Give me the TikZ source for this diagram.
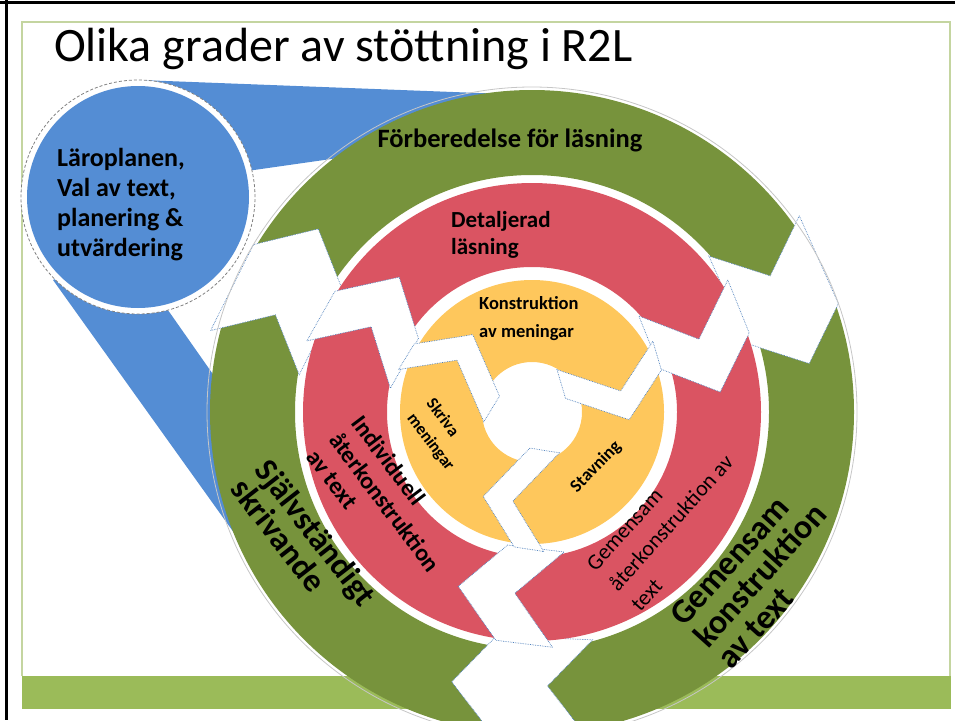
\documentclass[tikz,border=0pt]{standalone}
\usepackage{fontspec}
\setmainfont{Carlito}
\usepackage{tikz}
\usetikzlibrary{positioning}

\definecolor{ringgreen}{RGB}{119,147,60}
\definecolor{ringred}{RGB}{218,84,98}
\definecolor{ringyellow}{RGB}{254,199,92}
\definecolor{planblue}{RGB}{84,141,212}
\definecolor{barcolor}{RGB}{155,187,89}
\definecolor{framecolor}{RGB}{196,213,160}
\definecolor{gapblue}{RGB}{79,129,189}

\begin{document}
\begin{tikzpicture}[x=1pt, y=1pt,
    gapline/.style={fill=white, draw=gapblue, densely dotted, line width=0.7pt},
    ringlabel/.style={inner sep=0pt, text=black, font=\bfseries}]
    \useasboundingbox (0,0) rectangle (955,-720);

    % Slide frame and footer bar
    \draw[line width=3pt] (0,-2) -- (955,-2);
    \draw[line width=3pt] (6,0) -- (6,-720);
    \draw[framecolor, line width=1.5pt] (22,-676) -- (22,-22) -- (950,-22) -- (950,-676);
    \fill[barcolor] (22,-676) rectangle (951,-709);

    \node[anchor=base west, inner sep=0pt, font=\fontsize{48}{52}\selectfont] (title) at (54,-61) {Olika grader av stöttning i R2L};

    % Blue bands from the planning circle
    \fill[planblue] (140,-80) -- (505,-94) -- (420,-150) -- (345,-157) -- (240,-172) -- cycle;
    \fill[planblue] (53,-280) -- (252,-558) -- (268,-520) -- (224,-390) -- (170,-313) -- (120,-250) -- cycle;

    % Planning circle
    \fill[white] (138,-197) circle (117);
    \draw[gray, densely dashed, line width=0.8pt] (138,-197) circle (117);
    \fill[planblue] (138,-197) circle (111);
    \node[ringlabel, align=left, anchor=west, font=\bfseries\fontsize{26}{30}\selectfont] (plan) at (57,-205) {Läroplanen,\\Val av text,\\planering \&\\utvärdering};

    \begin{scope}[shift={(532,-412)}]
        % Outer ring
        \fill[ringgreen, even odd rule] (0,0) circle (322) (0,0) circle (237);
        \foreach \a in {153.5,24,267.5}
            \draw[gapline, rotate=\a] (324,70.5) -- (273,27.5) -- (225,70.5) -- (225,-25.5) -- (273,-68.5) -- (324,-25.5) -- cycle;
        \draw[gray!45, line width=0.8pt] (0,0) circle (325);

        % Middle ring
        \fill[ringred, even odd rule] (0,0) circle (229) (0,0) circle (145);
        \foreach \a in {150.5,22,263}
            \draw[gapline, rotate=\a] (231,49) -- (182,5) -- (135,49) -- (135,-8) -- (182,-52) -- (231,-8) -- cycle;

        % Inner ring
        \fill[ringyellow, even odd rule] (0,0) circle (132) (0,0) circle (50);
        \foreach \a in {148.5,16.5,261}
            \draw[gapline, rotate=\a] (136,33.5) -- (91,-5) -- (36,33.5) -- (36,3.5) -- (91,-35) -- (136,3.5) -- cycle;
    \end{scope}

    % Ring labels
    \node[ringlabel, font=\bfseries\fontsize{26.5}{30}\selectfont] (prep) at (510,-140) {Förberedelse för läsning};
    \node[ringlabel, align=left, anchor=west, font=\bfseries\fontsize{23}{27}\selectfont] (detail) at (451,-235) {Detaljerad\\läsning};
    \node[ringlabel, align=left, anchor=west, font=\bfseries\fontsize{18.5}{28}\selectfont] (sentences) at (479,-319) {Konstruktion\\av meningar};
    \node[ringlabel, align=left, rotate=-53, font=\bfseries\fontsize{17}{24}\selectfont] (write) at (440,-435) {Skriva\\meningar};
    \node[ringlabel, rotate=46, font=\bfseries\fontsize{18}{20}\selectfont] (spell) at (596,-467) {Stavning};
    \node[ringlabel, align=left, rotate=-53, font=\bfseries\fontsize{24}{28}\selectfont] (indiv) at (385,-502) {Individuell\\återkonstruktion\\av text};
    \node[ringlabel, align=left, rotate=-52, font=\bfseries\fontsize{33}{31}\selectfont] (self) at (304,-542) {Självständigt\\skrivande};
    \node[ringlabel, align=left, rotate=48, font=\fontsize{22}{30}\selectfont] (joint) at (671,-523) {Gemensam\\återkonstruktion av\\text};
    \node[ringlabel, align=left, rotate=48, font=\bfseries\fontsize{34}{32}\selectfont] (jointc) at (760,-575) {Gemensam\\konstruktion\\av text};
\end{tikzpicture}
\end{document}
